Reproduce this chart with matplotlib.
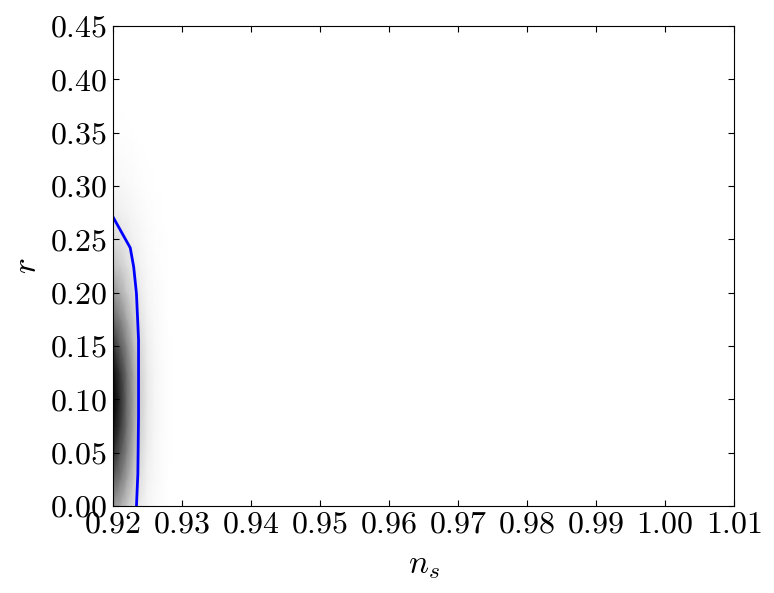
import numpy as np
import matplotlib
matplotlib.use("Agg")
import matplotlib.pyplot as plt

plt.rcParams['font.family'] = 'serif'
plt.rcParams['font.serif'] = ['cmr10']
plt.rcParams['mathtext.fontset'] = 'cm'
plt.rcParams['axes.formatter.use_mathtext'] = True

# density (1 = black), rows: r, columns: n_s
ns_grid = [0.920, 0.921, 0.922, 0.923, 0.924, 0.925, 0.926, 0.927, 0.928, 0.929]
r_grid = [0.0, 0.025, 0.05, 0.075, 0.10, 0.125, 0.15, 0.175, 0.20, 0.225,
          0.25, 0.275, 0.30, 0.325, 0.35, 0.375, 0.40, 0.45]
edge_profile = [0.50, 0.70, 0.86, 0.96, 1.00, 0.96, 0.84, 0.67, 0.50, 0.36,
                0.24, 0.15, 0.08, 0.04, 0.015, 0.0, 0.0, 0.0]
width_profile = [1.0, 0.86, 0.66, 0.46, 0.29, 0.16, 0.08, 0.035, 0.01, 0.0]

# blue contour
contour_ns = [0.9200, 0.9225, 0.9230, 0.9234, 0.9237, 0.9237, 0.9236, 0.9234]
contour_r = [0.271, 0.242, 0.224, 0.199, 0.156, 0.084, 0.030, 0.0]


def main():
    fig = plt.figure(figsize=(7.74, 5.93), dpi=100)
    ax = fig.add_axes([113 / 774, 87 / 593, 621 / 774, 480 / 593])

    dens = np.outer(edge_profile, width_profile)
    ax.pcolormesh(ns_grid, r_grid, dens, cmap='Greys', shading='gouraud',
                  vmin=0, vmax=1)
    ax.plot(contour_ns, contour_r, color='#0000ff', lw=2)

    ax.set_xlim(0.92, 1.01)
    ax.set_ylim(0.0, 0.45)
    ax.set_xticks(np.arange(0.92, 1.0101, 0.01))
    ax.set_yticks(np.arange(0.0, 0.4501, 0.05))
    ax.set_xticklabels(['$%.2f$' % v for v in np.arange(0.92, 1.0101, 0.01)])
    ax.set_yticklabels(['$%.2f$' % v for v in np.arange(0.0, 0.4501, 0.05)])
    ax.tick_params(direction='in', top=True, right=True, length=4,
                   labelsize=23, pad=4)
    ax.set_xlabel('$n_s$', fontsize=24, labelpad=9)
    ax.set_ylabel('$r$', fontsize=24, labelpad=6)

    fig.savefig('out.png', dpi=100)


if __name__ == '__main__':
    main()
